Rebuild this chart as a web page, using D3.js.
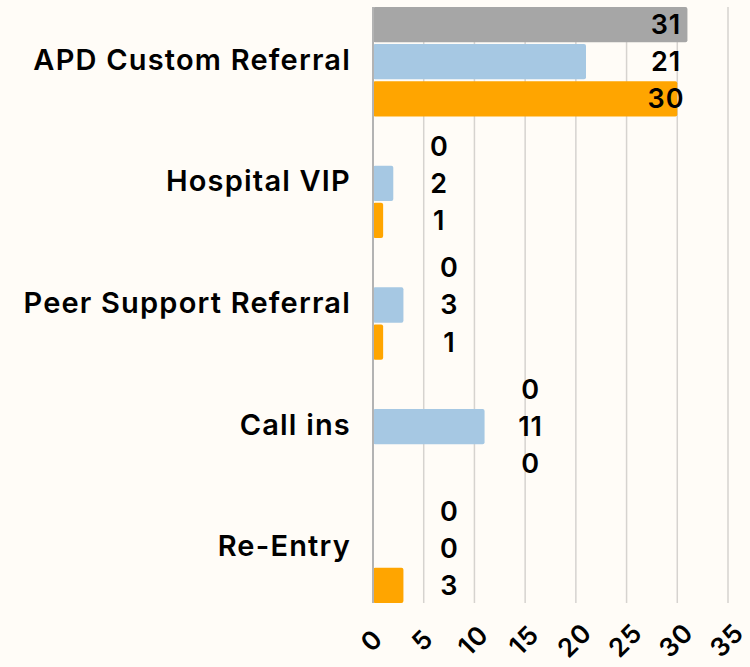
<!DOCTYPE html>
<html>
<head>
<meta charset="utf-8">
<script src="https://cdn.jsdelivr.net/npm/d3@7"></script>
<style>
  html, body { margin: 0; padding: 0; background: #fffcf7; }
  svg { display: block; font-family: Inter, sans-serif; }
</style>
</head>
<body>
<div id="wrapper"></div>
<script>
// data
const categories = ["APD Custom Referral", "Hospital VIP", "Peer Support Referral", "Call ins", "Re-Entry"];
const seriesNames = ["gray", "blue", "orange"];
const grayValues = [31, 0, 0, 0, 0];
const blueValues = [21, 2, 3, 11, 0];
const orangeValues = [30, 1, 1, 0, 3];
const xTicks = [0, 5, 10, 15, 20, 25, 30, 35];

const seriesValues = [grayValues, blueValues, orangeValues];
const colors = { gray: "#a6a6a6", blue: "#a6c8e3", orange: "#ffa500" };
const labelFont = "Inter, sans-serif";

function drawBarChart() {
  //* dimensions
  const dimensions = {
    width: 750,
    height: 667,
    margin: { top: 7, right: 22, bottom: 64, left: 373 },
  };
  dimensions.boundedWidth = dimensions.width - dimensions.margin.left - dimensions.margin.right;
  dimensions.boundedHeight = dimensions.height - dimensions.margin.top - dimensions.margin.bottom;

  //* canvas
  const wrapper = d3.select("#wrapper")
    .append("svg")
    .attr("width", dimensions.width)
    .attr("height", dimensions.height);

  wrapper.append("rect")
    .attr("width", dimensions.width)
    .attr("height", dimensions.height)
    .attr("fill", "#fffcf7");

  const bounds = wrapper.append("g")
    .attr("transform", `translate(${dimensions.margin.left},${dimensions.margin.top})`);

  //* scales
  const xScale = d3.scaleLinear()
    .domain([0, 35])
    .range([0, dimensions.boundedWidth]);

  const yScale = d3.scaleBand()
    .domain(categories)
    .range([0, dimensions.boundedHeight])
    .paddingInner(0.1)
    .paddingOuter(0);

  const subScale = d3.scaleBand()
    .domain(seriesNames)
    .range([0, yScale.bandwidth()])
    .paddingInner(0.05);

  //* gridlines
  bounds.append("g")
    .selectAll("line")
    .data(xTicks.slice(1))
    .join("line")
    .attr("x1", (d) => xScale(d))
    .attr("x2", (d) => xScale(d))
    .attr("y1", 0)
    .attr("y2", dimensions.boundedHeight)
    .attr("stroke", "#d6d3cf")
    .attr("stroke-width", 1.5);

  //* bars
  const rows = categories.map((c, i) => ({
    category: c,
    values: seriesNames.map((s, j) => ({ series: s, value: seriesValues[j][i] })),
  }));

  const groups = bounds.selectAll(".group")
    .data(rows)
    .join("g")
    .attr("class", "group")
    .attr("transform", (d) => `translate(0,${yScale(d.category)})`);

  groups.selectAll("rect")
    .data((d) => d.values.filter((v) => v.value > 0))
    .join("rect")
    .attr("x", xScale(0))
    .attr("y", (d) => subScale(d.series))
    .attr("width", (d) => xScale(d.value) - xScale(0))
    .attr("height", subScale.bandwidth())
    .attr("rx", 2)
    .attr("fill", (d) => colors[d.series]);

  // value labels, stacked next to the longest bar of each group
  groups.each(function (row) {
    const groupMax = d3.max(row.values, (v) => v.value);
    const labelX = Math.min(xScale(groupMax) + 46, dimensions.boundedWidth - 62);
    d3.select(this).selectAll("text")
      .data(row.values)
      .join("text")
      .attr("x", labelX)
      .attr("y", (d) => subScale(d.series) + subScale.bandwidth() / 2)
      .attr("text-anchor", "middle")
      .attr("dominant-baseline", "central")
      .attr("font-size", 27)
      .attr("font-weight", 600)
      .attr("letter-spacing", 1)
      .attr("fill", "#000")
      .text((d) => d.value);
  });

  //* axis line at zero
  bounds.append("line")
    .attr("x1", xScale(0))
    .attr("x2", xScale(0))
    .attr("y1", 0)
    .attr("y2", dimensions.boundedHeight)
    .attr("stroke", "#b3b3b3")
    .attr("stroke-width", 2);

  //* category labels
  const yAxis = bounds.append("g")
    .call(d3.axisLeft(yScale).tickSize(0).tickPadding(22));
  yAxis.select(".domain").remove();
  yAxis.selectAll("text")
    .attr("font-size", 29)
    .attr("font-weight", 600)
    .attr("letter-spacing", 1.2)
    .attr("font-family", labelFont)
    .attr("fill", "#000")
    .attr("dy", "0.28em");

  //* x axis ticks, rotated
  const xAxis = bounds.append("g")
    .attr("transform", `translate(0,${dimensions.boundedHeight})`)
    .call(d3.axisBottom(xScale).tickValues(xTicks).tickSize(0).tickPadding(0));
  xAxis.select(".domain").remove();
  xAxis.selectAll("text")
    .attr("font-size", 26)
    .attr("font-weight", 600)
    .attr("letter-spacing", 1)
    .attr("font-family", labelFont)
    .attr("fill", "#000")
    .attr("y", 0)
    .attr("dy", 0)
    .attr("text-anchor", "middle")
    .attr("dominant-baseline", "central")
    .attr("transform", "translate(-2,37) rotate(-45)");
}
drawBarChart();
</script>
</body>
</html>
